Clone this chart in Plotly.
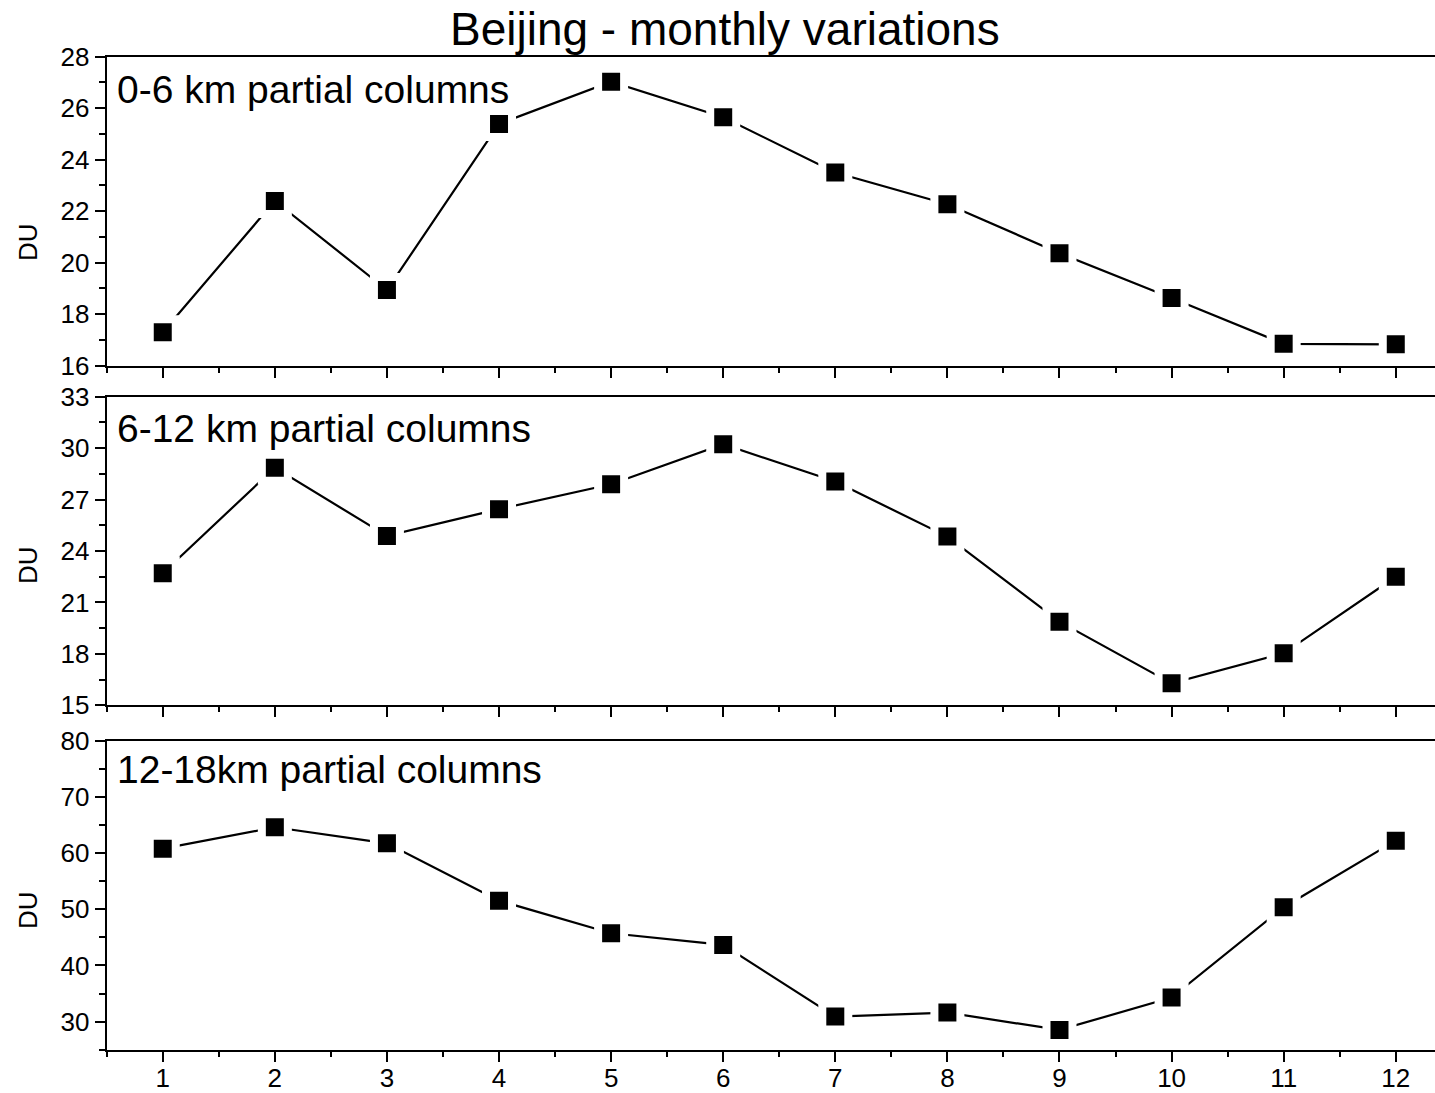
import plotly.graph_objects as go

# Monthly partial columns over Beijing (DU)
months = list(range(1, 13))
col_0_6km = [17.30, 22.40, 18.94, 25.39, 27.03, 25.65, 23.50, 22.27, 20.37, 18.63, 16.85, 16.83]
col_6_12km = [22.70, 28.86, 24.88, 26.44, 27.89, 30.23, 28.05, 24.84, 19.88, 16.28, 18.03, 22.50]
col_12_18km = [60.78, 64.59, 61.74, 51.53, 45.73, 43.65, 30.89, 31.60, 28.52, 34.27, 50.36, 62.21]

panel_labels = ["0-6 km partial columns", "6-12 km partial columns", "12-18km partial columns"]
y_ranges = [[16, 28], [15, 33], [25, 80]]
y_major = [2, 3, 10]
y_minor = [1, 1.5, 5]

W, H = 1435, 1093
FONT = "Arial, Liberation Sans, sans-serif"

# pixel extents of each panel (top, bottom)
panel_px = [(56.7, 365.7), (396.7, 705.3), (740.7, 1049.7)]
left_px = 106.7
label_px = [90, 428, 769]
du_px = [242, 565, 910]


def py(p):
    return 1 - p / H


fig = go.Figure()
series = [col_0_6km, col_6_12km, col_12_18km]

for i, vals in enumerate(series):
    n = i + 1
    xa = "x" if n == 1 else f"x{n}"
    ya = "y" if n == 1 else f"y{n}"
    fig.add_trace(go.Scatter(
        x=months, y=vals, xaxis=xa, yaxis=ya,
        mode="lines+markers",
        line=dict(color="black", width=2.2),
        marker=dict(symbol="square", size=26, color="black",
                    line=dict(color="white", width=8)),
        showlegend=False, cliponaxis=False,
    ))

    top, bot = panel_px[i]
    dom_y = [py(bot), py(top)]
    xkey = "xaxis" if n == 1 else f"xaxis{n}"
    ykey = "yaxis" if n == 1 else f"yaxis{n}"
    fig.layout[xkey] = dict(
        domain=[left_px / W, 1], anchor=ya, range=[0.5, 12.35],
        tickmode="array", tickvals=months,
        ticktext=[str(m) for m in months] if n == 3 else [""] * 12,
        ticks="outside", ticklen=10, tickwidth=2, tickcolor="black",
        minor=dict(ticks="outside", ticklen=5, tickwidth=2, tickcolor="black",
                   tick0=0.5, dtick=0.5),
        showline=True, linewidth=2, linecolor="black", mirror=True,
        showgrid=False, zeroline=False,
        tickfont=dict(family=FONT, size=26, color="black"),
        ticklabelstandoff=-6,
        automargin=False, fixedrange=True,
    )
    fig.layout[ykey] = dict(
        domain=dom_y, anchor=xa, range=y_ranges[i],
        tick0=0, dtick=y_major[i],
        ticks="outside", ticklen=10, tickwidth=2, tickcolor="black",
        minor=dict(ticks="outside", ticklen=6, tickwidth=2, tickcolor="black",
                   tick0=0, dtick=y_minor[i]),
        showline=True, linewidth=2, linecolor="black",
        showgrid=False, zeroline=False,
        tickfont=dict(family=FONT, size=26, color="black"),
        automargin=False, fixedrange=True,
    )

annotations = [dict(
    text="Beijing - monthly variations", xref="paper", yref="paper",
    x=725 / W, y=py(29), xanchor="center", yanchor="middle", showarrow=False,
    font=dict(family=FONT, size=46, color="black"),
)]
for i in range(3):
    annotations.append(dict(
        text=panel_labels[i], xref="paper", yref="paper",
        x=115 / W, y=py(label_px[i]), xanchor="left", yanchor="middle",
        showarrow=False, font=dict(family=FONT, size=39, color="black"),
    ))
    annotations.append(dict(
        text="DU", xref="paper", yref="paper", textangle=-90,
        x=28 / W, y=py(du_px[i]), xanchor="center", yanchor="middle",
        showarrow=False, font=dict(family=FONT, size=26, color="black"),
    ))

fig.update_layout(
    width=W, height=H,
    margin=dict(l=0, r=0, t=0, b=0),
    paper_bgcolor="white", plot_bgcolor="white",
    annotations=annotations,
)

fig.write_html("out.html")
